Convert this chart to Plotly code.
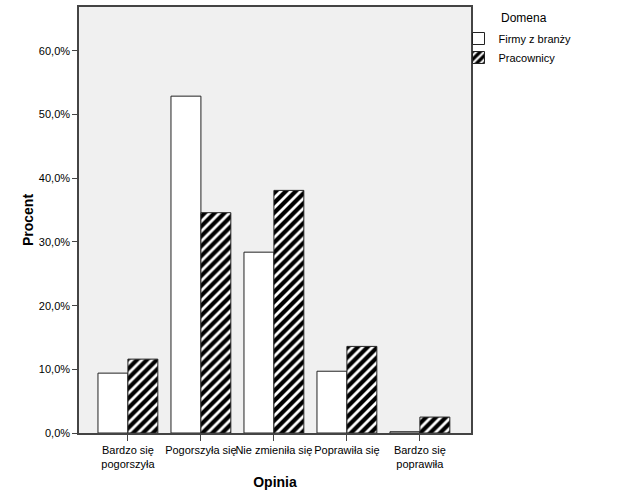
import plotly.graph_objects as go

categories = ["Bardzo się<br>pogorszyła", "Pogorszyła się", "Nie zmieniła się", "Poprawiła się", "Bardzo się<br>poprawiła"]
firmy = [9.4, 52.9, 28.4, 9.7, 0.2]
pracownicy = [11.6, 34.6, 38.1, 13.6, 2.5]
series_names = ["Firmy z branży", "Pracownicy"]
ytick_vals = [0, 10, 20, 30, 40, 50, 60]
ytick_text = ["0,0%", "10,0%", "20,0%", "30,0%", "40,0%", "50,0%", "60,0%"]

xpos = list(range(len(categories)))
font = "Liberation Sans, Arial, sans-serif"

fig = go.Figure()
fig.add_trace(go.Bar(
    x=xpos, y=firmy, name=series_names[0],
    marker=dict(color="white", line=dict(color="#222222", width=1)),
))
fig.add_trace(go.Bar(
    x=xpos, y=pracownicy, name=series_names[1],
    marker=dict(color="black", line=dict(color="#222222", width=1),
                pattern=dict(shape="/", bgcolor="black", fgcolor="white",
                             fgopacity=1, size=7, solidity=0.4)),
))

fig.update_layout(
    width=629, height=504,
    margin=dict(l=79, r=158, t=7, b=71, autoexpand=False),
    paper_bgcolor="white",
    plot_bgcolor="#f0f0f0",
    barmode="group",
    bargap=0.18,
    bargroupgap=0,
    font=dict(family=font, size=11, color="black"),
    showlegend=True,
    legend=dict(x=(458.5 - 79) / 392, y=(433 - 24) / 426, xanchor="left", yanchor="top",
                font=dict(size=11), tracegroupgap=0, itemwidth=30,
                bgcolor="rgba(0,0,0,0)"),
)
fig.add_annotation(text="Domena", xref="paper", yref="paper",
                   x=(524 - 79) / 392, y=(433 - 18) / 426,
                   xanchor="center", yanchor="middle", showarrow=False,
                   font=dict(size=12))

fig.update_xaxes(
    tickvals=xpos, ticktext=categories, tickangle=0, automargin=False,
    range=[-0.67, 4.7],
    showline=True, linecolor="#444444", linewidth=1.5, mirror=True,
    ticks="outside", ticklen=6, tickcolor="#444444",
    showgrid=False, zeroline=False,
    tickfont=dict(size=11),
    title=dict(text="<b>Opinia</b>", font=dict(size=14), standoff=8),
)
fig.update_yaxes(
    tickvals=ytick_vals, ticktext=ytick_text, automargin=False,
    range=[0, 66.9],
    showline=True, linecolor="#444444", linewidth=1.5, mirror=True,
    ticks="outside", ticklen=5, tickcolor="#444444",
    showgrid=False, zeroline=False,
    tickfont=dict(size=11),
    title=dict(text="<b>Procent</b>", font=dict(size=14), standoff=2),
)

fig.write_html("out.html")
